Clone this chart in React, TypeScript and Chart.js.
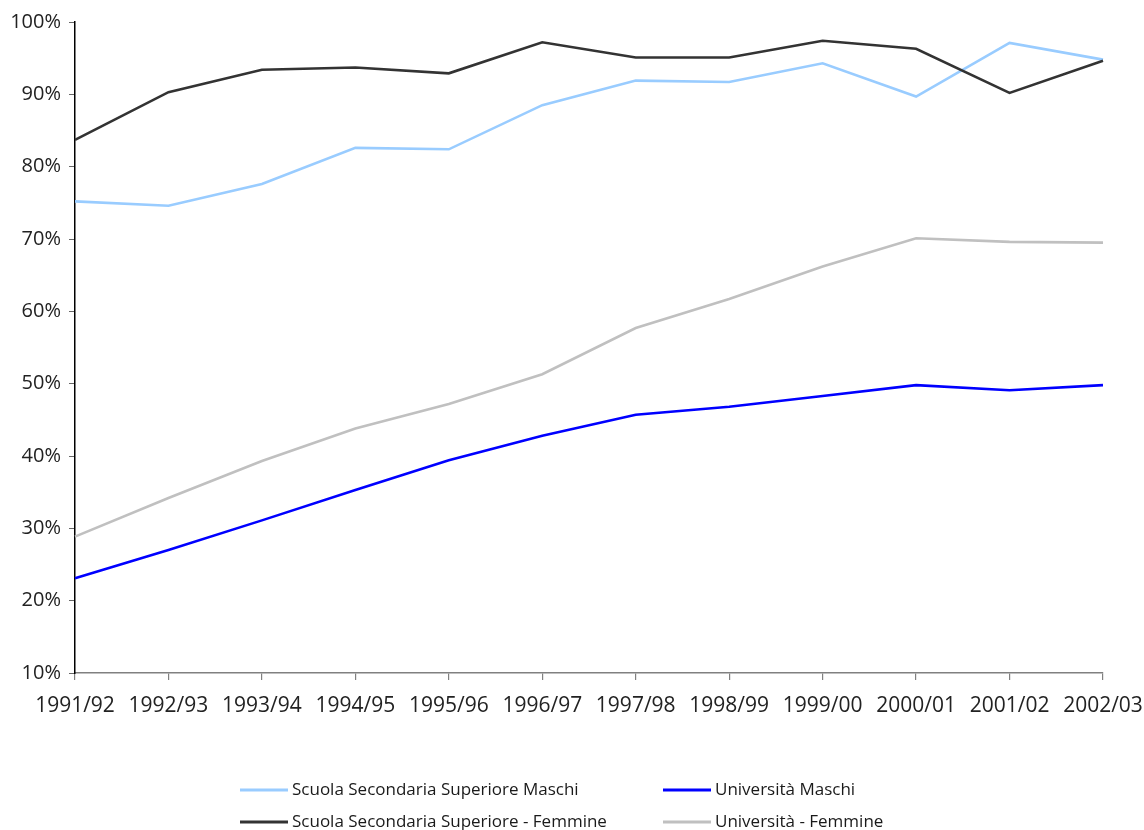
import React, { useEffect, useRef } from "react";
import { Chart, registerables } from "chart.js";

Chart.register(...registerables);

const categories = [
  "1991/92", "1992/93", "1993/94", "1994/95", "1995/96", "1996/97",
  "1997/98", "1998/99", "1999/00", "2000/01", "2001/02", "2002/03",
];

const scuolaMaschi = [75.2, 74.6, 77.6, 82.6, 82.4, 88.5, 91.9, 91.7, 94.3, 89.7, 97.1, 94.8];
const universitaMaschi = [23.1, 27.0, 31.1, 35.3, 39.4, 42.8, 45.7, 46.8, 48.3, 49.8, 49.1, 49.8];
const scuolaFemmine = [83.7, 90.3, 93.4, 93.7, 92.9, 97.2, 95.1, 95.1, 97.4, 96.3, 90.2, 94.65];
const universitaFemmine = [28.85, 34.2, 39.3, 43.8, 47.2, 51.3, 57.7, 61.7, 66.2, 70.1, 69.6, 69.5];

const seriesLabels = [
  "Scuola Secondaria Superiore Maschi",
  "Università Maschi",
  "Scuola Secondaria Superiore - Femmine",
  "Università - Femmine",
];
const seriesColors = ["#99CCFF", "#0000FF", "#333333", "#C0C0C0"];

const FONT = "'Open Sans', 'Noto Sans', Arial, sans-serif";

const legendPlugin = {
  id: "gridLegend",
  afterDraw(chart: any) {
    const ctx = chart.ctx;
    const ds = chart.data.datasets;
    const colX = [240, 663];
    const rowY = [790, 822];
    ctx.save();
    ctx.font = `17px ${FONT}`;
    ctx.textBaseline = "middle";
    ctx.textAlign = "left";
    ds.forEach((d: any, i: number) => {
      const x = colX[i % 2];
      const y = rowY[Math.floor(i / 2)];
      ctx.strokeStyle = d.borderColor;
      ctx.lineWidth = 3;
      ctx.beginPath();
      ctx.moveTo(x, y);
      ctx.lineTo(x + 48, y);
      ctx.stroke();
      ctx.fillStyle = "#1a1a1a";
      ctx.fillText(d.label, x + 52, y);
    });
    ctx.restore();
  },
};

export default function App() {
  const ref = useRef<HTMLCanvasElement>(null);
  useEffect(() => {
    if (!ref.current) return;
    const values = [scuolaMaschi, universitaMaschi, scuolaFemmine, universitaFemmine];
    const chart = new Chart(ref.current, {
      type: "line",
      data: {
        labels: categories,
        datasets: values.map((v, i) => ({
          label: seriesLabels[i],
          data: v,
          borderColor: seriesColors[i],
          backgroundColor: seriesColors[i],
          borderWidth: 2.6,
          pointRadius: 0,
          tension: 0,
          fill: false,
          order: i === 2 ? 0 : 1,
        })),
      },
      options: {
        animation: false,
        responsive: false,
        maintainAspectRatio: false,
        layout: { padding: { left: 0, right: 41, top: 22, bottom: 0 } },
        plugins: {
          legend: { display: false },
          tooltip: { enabled: false },
        },
        scales: {
          x: {
            type: "category",
            offset: false,
            grid: {
              drawOnChartArea: false,
              drawTicks: true,
              tickLength: 7,
              color: "#808080",
              lineWidth: 1.2,
            },
            border: { display: true, color: "#808080", width: 1.5 },
            ticks: {
              color: "#222",
              font: { family: FONT, size: 21 },
              maxRotation: 0,
              autoSkip: false,
              padding: 13,
            },
            afterFit(scale: any) {
              scale.height = 157;
              scale.paddingLeft = 0;
              scale.paddingRight = 0;
            },
          },
          y: {
            min: 10,
            max: 100,
            grid: {
              drawOnChartArea: false,
              drawTicks: true,
              tickLength: 6,
              color: "#666",
            },
            border: { display: true, color: "#000", width: 1.5 },
            ticks: {
              stepSize: 10,
              color: "#222",
              font: { family: FONT, size: 20 },
              padding: 8,
              callback: (v: any) => `${v}%`,
            },
            afterFit(scale: any) {
              scale.width = 75;
            },
          },
        },
      },
      plugins: [legendPlugin],
    });
    return () => chart.destroy();
  }, []);
  return (
    <div style={{ position: "fixed", left: 0, top: 0, width: 1144, height: 830, background: "#fff" }}>
      <canvas ref={ref} width={1144} height={830} style={{ display: "block" }} />
    </div>
  );
}
